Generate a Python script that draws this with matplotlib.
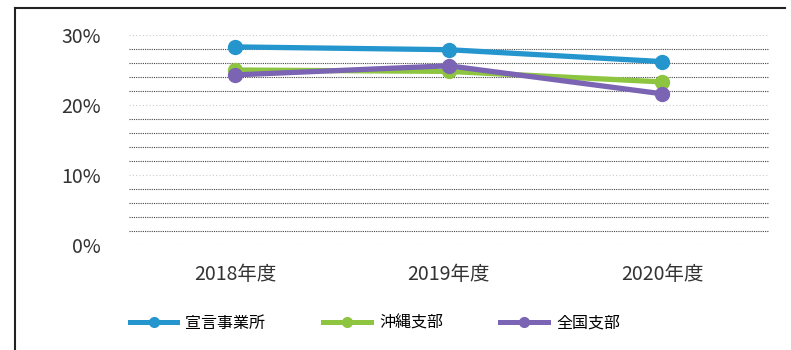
import matplotlib
matplotlib.use('Agg')
import matplotlib.pyplot as plt
import matplotlib.ticker as ticker
from matplotlib.lines import Line2D

plt.rcParams['font.family'] = ['Noto Sans CJK JP', 'DejaVu Sans']

years = ['2018年度', '2019年度', '2020年度']
sengen = [0.283, 0.279, 0.262]   # 宣言事業所
okinawa = [0.250, 0.248, 0.233]  # 沖縄支部
zenkoku = [0.243, 0.256, 0.216]  # 全国支部
labels = ['宣言事業所', '沖縄支部', '全国支部']
colors = ['#2596cd', '#8dc540', '#7c64b4']

fig = plt.figure(figsize=(7.91, 3.5), dpi=100)
ax = fig.add_axes([0.1625, 0.30, 0.8095, 0.60])

x = range(len(years))
for vals, lab, c in zip([sengen, okinawa, zenkoku], labels, colors):
    ax.plot(x, vals, color=c, lw=3.8, marker='o', ms=10, label=lab,
            solid_capstyle='round', zorder=3)

ax.set_xlim(-0.5, 2.5)
ax.set_ylim(0, 0.30)
ax.yaxis.set_major_locator(ticker.MultipleLocator(0.10))
ax.yaxis.set_minor_locator(ticker.MultipleLocator(0.02))
ax.yaxis.set_major_formatter(ticker.FuncFormatter(lambda v, p: '{:.0f}%'.format(v * 100)))
ax.set_xticks(list(x))
ax.set_xticklabels(years)
ax.tick_params(axis='both', length=0, labelsize=14, colors='#333333')
ax.tick_params(axis='y', pad=20)
ax.tick_params(axis='x', pad=14)
ax.tick_params(axis='y', which='minor', length=0)

ax.grid(axis='y', which='minor', color='#444444', ls=(0, (1, 1)), lw=0.8)
ax.grid(axis='y', which='major', color='#cccccc', ls=(0, (1, 2)), lw=0.8)
for s in ax.spines.values():
    s.set_visible(False)

handles = [Line2D([], [], color=c, lw=3.6, marker='o', ms=7) for c in colors]
fig.legend(handles, labels, loc='center', bbox_to_anchor=(0.474, 0.077), ncol=3,
           frameon=False, fontsize=11.5, handlelength=3.0, columnspacing=3.6,
           handletextpad=0.5)

# outer frame of the scanned chart
fig.add_artist(Line2D([0.019, 0.019], [0.0, 0.977], color='#222222', lw=1.5,
                      transform=fig.transFigure))
fig.add_artist(Line2D([0.019, 0.993], [0.977, 0.977], color='#222222', lw=1.5,
                      transform=fig.transFigure))

fig.savefig('out.png', dpi=100)
